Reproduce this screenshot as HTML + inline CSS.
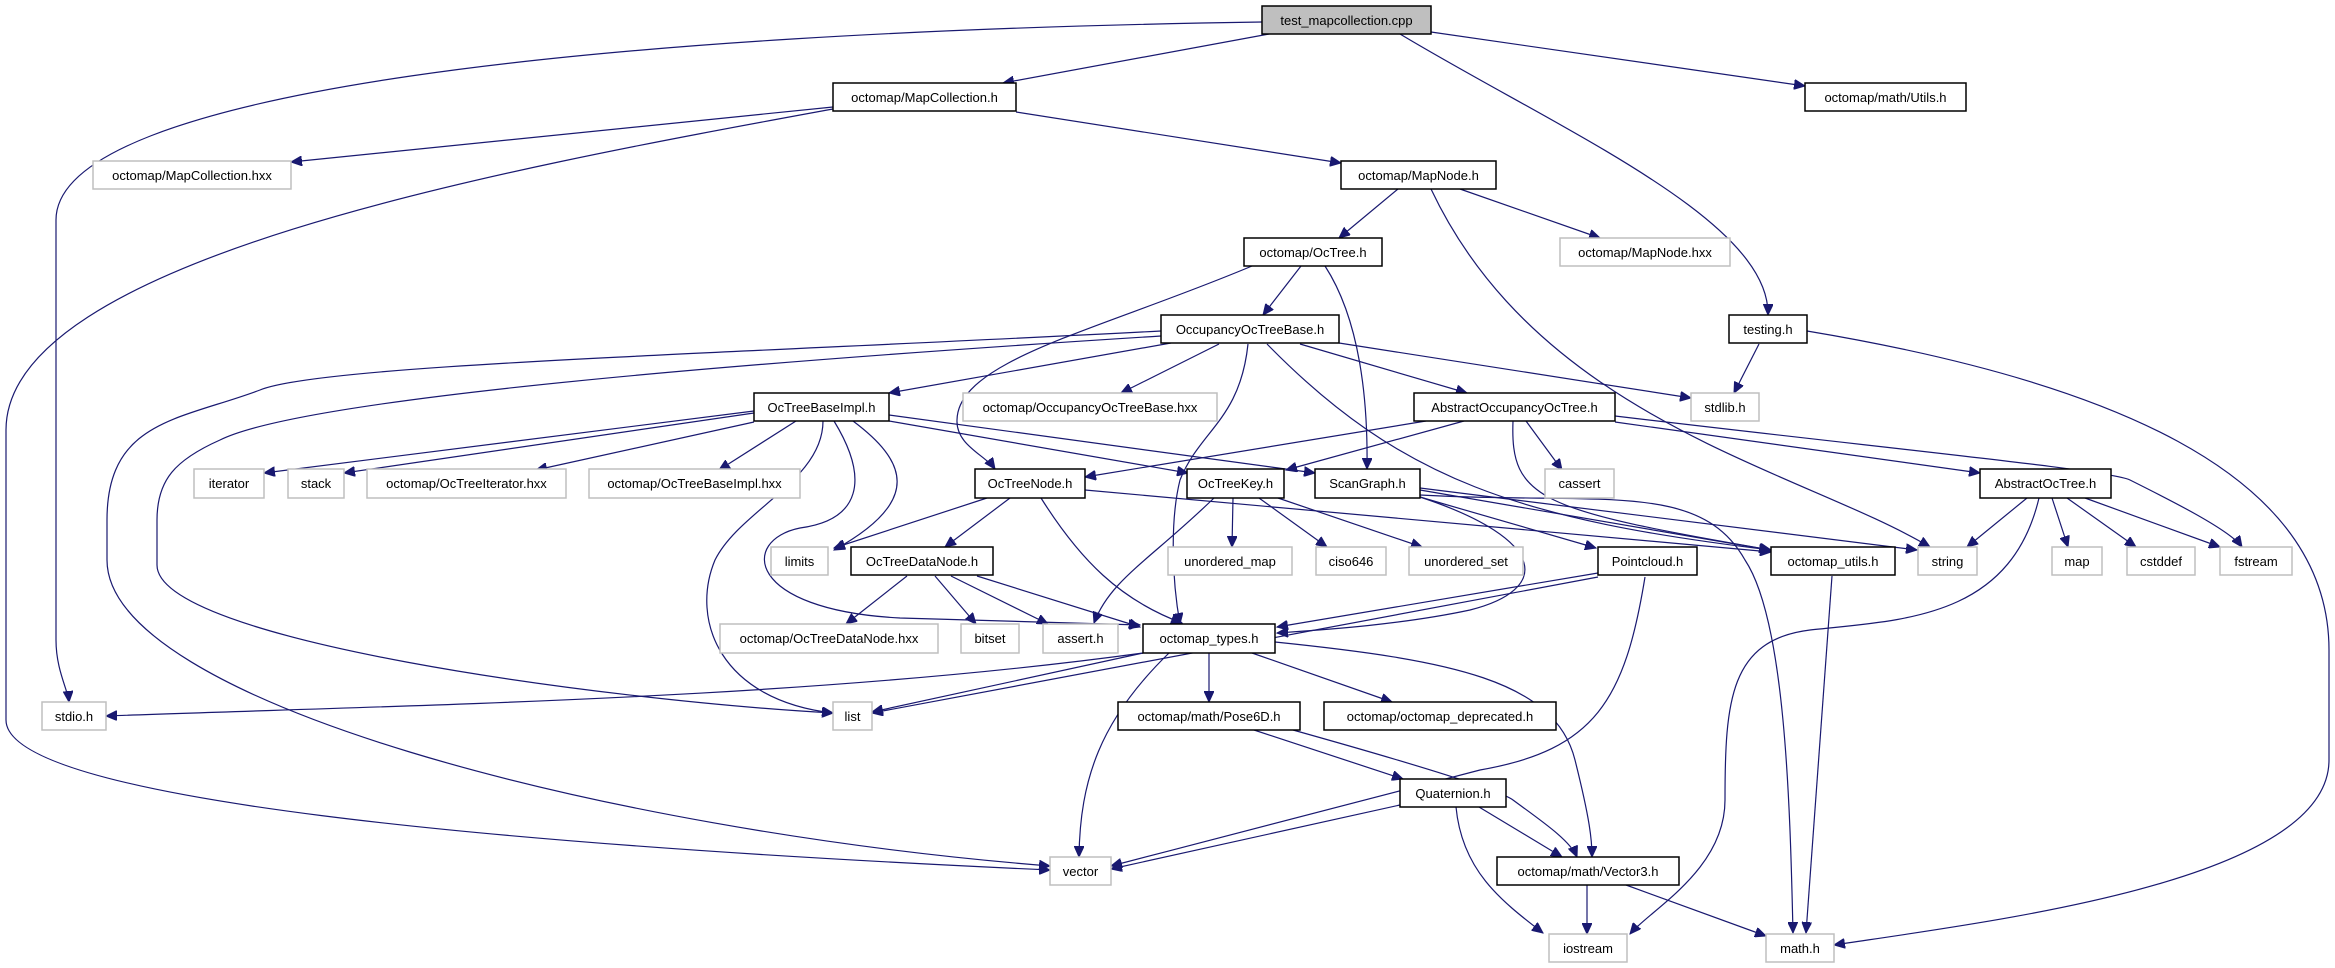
<!DOCTYPE html>
<html><head><meta charset="utf-8"><style>
html,body{margin:0;padding:0;background:#fff;}
svg{display:block;}
text{font-family:"Liberation Sans",sans-serif;font-size:13px;fill:#000;}
.e{fill:none;stroke:#191970;stroke-width:1.2;}
.n{fill:#fff;stroke:#000;stroke-width:1.5;}
.g{fill:#fff;stroke:#bfbfbf;stroke-width:1.5;}
</style></head><body>
<svg width="2335" height="968" viewBox="0 0 2335 968" xmlns="http://www.w3.org/2000/svg">
<defs><marker id="a" markerUnits="userSpaceOnUse" markerWidth="12" markerHeight="10" refX="11" refY="5" orient="auto"><path d="M0,0 L11,5 L0,10 z" fill="#191970" stroke="#191970"/></marker></defs>
<g class="e" marker-end="url(#a)">
<path d="M1262,22 C600,32 56,90 56,220 L56,640 C56,670 68,690 69,702"/>
<path d="M1269,34 L1003,83"/>
<path d="M1431,32 L1805,86"/>
<path d="M1400,34 C1560,130 1770,220 1768,315"/>
<path d="M833,107 L291,162"/>
<path d="M833,109 C500,170 6,260 6,430 L6,720 C6,800 500,845 1050,870"/>
<path d="M1016,112 L1341,163"/>
<path d="M1398,189 L1339,238"/>
<path d="M1460,189 L1600,238"/>
<path d="M1431,189 C1540,420 1800,470 1930,547"/>
<path d="M1301,266 L1263,315"/>
<path d="M1252,266 C1100,330 958,360 957,420 C956,445 985,455 995,469"/>
<path d="M1325,266 C1360,320 1368,400 1367,469"/>
<path d="M1171,343 L889,393"/>
<path d="M1219,344 L1121,393"/>
<path d="M1300,344 L1467,393"/>
<path d="M1339,343 L1691,398"/>
<path d="M1248,344 C1240,420 1200,430 1180,480 C1170,520 1172,580 1180,624"/>
<path d="M1267,344 C1400,480 1520,520 1771,550"/>
<path d="M1161,331 C700,355 320,365 260,390 C180,420 107,420 107,520 L107,560 C107,700 600,830 1050,866"/>
<path d="M1161,336 C700,365 300,400 220,440 C175,460 157,480 157,520 L157,565 C157,640 600,700 833,713"/>
<path d="M754,411 L264,473"/>
<path d="M754,413 L344,473"/>
<path d="M754,422 L536,470"/>
<path d="M796,421 L719,470"/>
<path d="M853,421 C905,460 925,500 834,550"/>
<path d="M823,421 C823,480 740,510 715,560 C690,620 720,700 833,713"/>
<path d="M834,421 C870,480 860,520 800,528 C740,540 745,610 900,618 L1140,625"/>
<path d="M889,421 L1188,473"/>
<path d="M889,415 L1315,473"/>
<path d="M1426,421 L1085,477"/>
<path d="M1464,421 L1286,470"/>
<path d="M1526,421 L1562,470"/>
<path d="M1513,421 C1510,500 1540,510 1771,550"/>
<path d="M1615,422 L1980,473"/>
<path d="M1615,416 C1900,450 2110,470 2130,480 C2170,500 2230,530 2242,547"/>
<path d="M987,498 L834,548"/>
<path d="M1010,498 L945,547"/>
<path d="M1041,498 C1080,560 1120,600 1182,623"/>
<path d="M1085,490 L1771,552"/>
<path d="M907,576 L846,624"/>
<path d="M935,576 L976,624"/>
<path d="M951,576 L1048,624"/>
<path d="M977,576 L1140,627"/>
<path d="M1214,498 C1150,560 1110,580 1094,623"/>
<path d="M1233,498 L1232,547"/>
<path d="M1259,498 L1327,547"/>
<path d="M1278,498 L1422,547"/>
<path d="M1420,497 C1550,540 1550,590 1470,610 C1400,625 1320,630 1277,633"/>
<path d="M1420,497 L1596,548"/>
<path d="M1420,490 L1770,550"/>
<path d="M1420,488 L1917,550"/>
<path d="M1420,495 C1600,505 1700,480 1745,560 C1785,620 1790,800 1793,933"/>
<path d="M1598,573 L1277,627"/>
<path d="M1598,577 L872,713"/>
<path d="M1645,577 C1625,700 1595,750 1480,770 C1400,790 1250,830 1111,866"/>
<path d="M1143,653 C800,700 400,705 106,716"/>
<path d="M1143,653 L872,712"/>
<path d="M1169,653 C1100,720 1080,780 1079,857"/>
<path d="M1209,653 L1209,702"/>
<path d="M1252,653 L1392,702"/>
<path d="M1275,642 C1450,660 1555,680 1575,760 C1590,820 1592,840 1592,857"/>
<path d="M1254,730 L1403,779"/>
<path d="M1293,730 C1400,760 1500,790 1513,800 C1540,820 1570,840 1577,857"/>
<path d="M1400,805 L1111,869"/>
<path d="M1479,807 L1562,857"/>
<path d="M1456,807 C1462,870 1500,900 1543,933"/>
<path d="M1587,885 L1587,934"/>
<path d="M1626,885 L1766,936"/>
<path d="M1832,576 L1806,933"/>
<path d="M2027,498 L1967,547"/>
<path d="M2052,498 L2068,547"/>
<path d="M2067,498 L2136,547"/>
<path d="M2085,498 L2220,547"/>
<path d="M2039,498 C2010,620 1900,620 1810,630 C1730,640 1725,700 1725,800 C1725,870 1650,910 1630,934"/>
<path d="M1759,344 L1734,393"/>
<path d="M1807,331 C2100,380 2329,470 2329,650 L2329,760 C2329,880 2000,920 1834,945"/>
</g>
<g text-anchor="middle">
<rect x="1262" y="6" width="169" height="28" fill="#bfbfbf" stroke="#000" stroke-width="1.5"/><text x="1346.5" y="25">test_mapcollection.cpp</text>
<rect class="n" x="833" y="83" width="183" height="28"/><text x="924.5" y="102">octomap/MapCollection.h</text>
<rect class="n" x="1805" y="83" width="161" height="28"/><text x="1885.5" y="102">octomap/math/Utils.h</text>
<rect class="g" x="93" y="161" width="198" height="28"/><text x="192" y="180">octomap/MapCollection.hxx</text>
<rect class="n" x="1341" y="161" width="155" height="28"/><text x="1418.5" y="180">octomap/MapNode.h</text>
<rect class="n" x="1244" y="238" width="138" height="28"/><text x="1313" y="257">octomap/OcTree.h</text>
<rect class="g" x="1560" y="238" width="170" height="28"/><text x="1645" y="257">octomap/MapNode.hxx</text>
<rect class="n" x="1161" y="315" width="178" height="28"/><text x="1250" y="334">OccupancyOcTreeBase.h</text>
<rect class="n" x="1729" y="315" width="78" height="28"/><text x="1768" y="334">testing.h</text>
<rect class="n" x="754" y="393" width="135" height="28"/><text x="821.5" y="412">OcTreeBaseImpl.h</text>
<rect class="g" x="963" y="393" width="254" height="28"/><text x="1090" y="412">octomap/OccupancyOcTreeBase.hxx</text>
<rect class="n" x="1414" y="393" width="201" height="28"/><text x="1514.5" y="412">AbstractOccupancyOcTree.h</text>
<rect class="g" x="1691" y="393" width="68" height="28"/><text x="1725" y="412">stdlib.h</text>
<rect class="g" x="194" y="469" width="70" height="29"/><text x="229" y="488">iterator</text>
<rect class="g" x="288" y="469" width="56" height="29"/><text x="316" y="488">stack</text>
<rect class="g" x="367" y="469" width="199" height="29"/><text x="466.5" y="488">octomap/OcTreeIterator.hxx</text>
<rect class="g" x="589" y="469" width="211" height="29"/><text x="694.5" y="488">octomap/OcTreeBaseImpl.hxx</text>
<rect class="n" x="975" y="469" width="110" height="29"/><text x="1030" y="488">OcTreeNode.h</text>
<rect class="n" x="1187" y="469" width="97" height="29"/><text x="1235.5" y="488">OcTreeKey.h</text>
<rect class="n" x="1315" y="469" width="105" height="29"/><text x="1367.5" y="488">ScanGraph.h</text>
<rect class="g" x="1545" y="469" width="69" height="29"/><text x="1579.5" y="488">cassert</text>
<rect class="n" x="1980" y="469" width="131" height="29"/><text x="2045.5" y="488">AbstractOcTree.h</text>
<rect class="g" x="771" y="547" width="57" height="28"/><text x="799.5" y="566">limits</text>
<rect class="n" x="851" y="547" width="142" height="28"/><text x="922" y="566">OcTreeDataNode.h</text>
<rect class="g" x="1168" y="547" width="124" height="28"/><text x="1230" y="566">unordered_map</text>
<rect class="g" x="1316" y="547" width="70" height="28"/><text x="1351" y="566">ciso646</text>
<rect class="g" x="1409" y="547" width="114" height="28"/><text x="1466" y="566">unordered_set</text>
<rect class="n" x="1598" y="547" width="99" height="28"/><text x="1647.5" y="566">Pointcloud.h</text>
<rect class="n" x="1771" y="547" width="124" height="28"/><text x="1833" y="566">octomap_utils.h</text>
<rect class="g" x="1918" y="547" width="59" height="28"/><text x="1947.5" y="566">string</text>
<rect class="g" x="2052" y="547" width="50" height="28"/><text x="2077" y="566">map</text>
<rect class="g" x="2127" y="547" width="68" height="28"/><text x="2161" y="566">cstddef</text>
<rect class="g" x="2220" y="547" width="72" height="28"/><text x="2256" y="566">fstream</text>
<rect class="g" x="720" y="624" width="218" height="29"/><text x="829" y="643">octomap/OcTreeDataNode.hxx</text>
<rect class="g" x="961" y="624" width="58" height="29"/><text x="990" y="643">bitset</text>
<rect class="g" x="1043" y="624" width="75" height="29"/><text x="1080.5" y="643">assert.h</text>
<rect class="n" x="1143" y="624" width="132" height="29"/><text x="1209" y="643">octomap_types.h</text>
<rect class="g" x="42" y="702" width="64" height="28"/><text x="74" y="721">stdio.h</text>
<rect class="g" x="833" y="702" width="39" height="28"/><text x="852.5" y="721">list</text>
<rect class="n" x="1118" y="702" width="182" height="28"/><text x="1209" y="721">octomap/math/Pose6D.h</text>
<rect class="n" x="1324" y="702" width="232" height="28"/><text x="1440" y="721">octomap/octomap_deprecated.h</text>
<rect class="n" x="1400" y="779" width="106" height="28"/><text x="1453" y="798">Quaternion.h</text>
<rect class="g" x="1050" y="857" width="61" height="28"/><text x="1080.5" y="876">vector</text>
<rect class="n" x="1497" y="857" width="182" height="28"/><text x="1588" y="876">octomap/math/Vector3.h</text>
<rect class="g" x="1549" y="934" width="78" height="28"/><text x="1588" y="953">iostream</text>
<rect class="g" x="1766" y="934" width="68" height="28"/><text x="1800" y="953">math.h</text>
</g>
</svg>
</body></html>
